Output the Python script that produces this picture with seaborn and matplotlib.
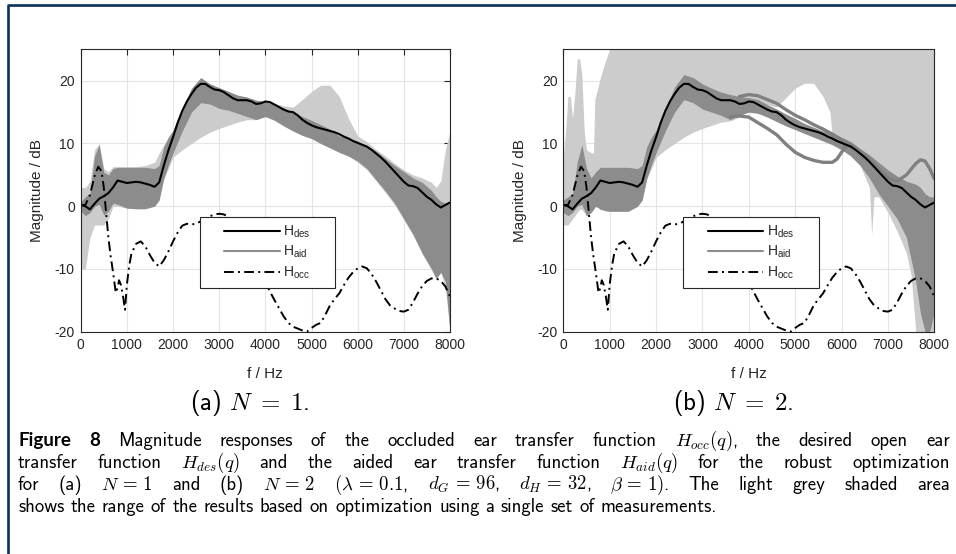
import matplotlib
matplotlib.use("Agg")
import matplotlib.pyplot as plt
import seaborn as sns
from matplotlib.lines import Line2D
from matplotlib.patches import Rectangle

# ---------------- data ----------------
f_des = list(range(0, 8001, 100))
h_des = [0.2, 0.0, -0.5, 0.4, 1.2, 1.6, 2.1, 3.0, 4.1, 3.9,
         3.7, 3.8, 3.9, 3.8, 3.6, 3.4, 3.1, 3.8, 6.5, 8.9,
         11.0, 13.3, 15.2, 16.7, 17.9, 18.9, 19.5, 19.5, 19.0, 18.6,
         18.5, 18.2, 17.7, 17.2, 16.9, 16.9, 16.9, 16.7, 16.3, 16.4,
         16.7, 16.6, 16.2, 15.8, 15.4, 15.1, 15.0, 14.5, 13.8, 13.3,
         12.9, 12.6, 12.4, 12.2, 12.0, 11.8, 11.5, 11.1, 10.8, 10.4,
         10.1, 9.8, 9.5, 9.0, 8.4, 7.8, 7.1, 6.3, 5.5, 4.7,
         3.9, 3.3, 3.2, 2.9, 2.2, 1.5, 1.0, 0.3, -0.2, 0.2,
         0.6]

f_occ = [0, 100, 200, 300, 380, 450, 500, 550, 600, 650, 700, 760, 800, 830, 870,
         920, 960, 1000, 1050, 1100, 1200, 1300, 1400, 1500, 1600, 1700, 1800, 1900,
         2000, 2100, 2200, 2300, 2400, 2500, 2600, 2700, 2800, 2900, 3000, 3100, 3200,
         3300, 3400, 3500, 3600, 3700, 3800, 3900, 4000, 4100, 4200, 4300, 4400, 4500,
         4600, 4700, 4800, 4900, 5000, 5100, 5200, 5300, 5400, 5500, 5600, 5700, 5800,
         5900, 6000, 6100, 6200, 6300, 6400, 6500, 6600, 6700, 6800, 6900, 7000, 7100,
         7200, 7300, 7400, 7500, 7600, 7700, 7800, 7900, 8000]
h_occ = [0.2, 0.2, 1.8, 4.8, 6.3, 5.6, 3.0, -1.0, -5.0, -8.0, -10.5, -13.8, -13.0, -11.8, -12.5,
         -14.5, -16.5, -12.5, -9.5, -7.5, -6.0, -5.6, -6.4, -7.8, -9.0, -9.6, -8.6, -7.2,
         -5.6, -4.2, -3.1, -2.8, -2.9, -2.8, -2.4, -2.0, -1.6, -1.3, -1.2, -1.3, -1.7,
         -2.5, -3.5, -4.8, -6.3, -7.8, -9.3, -10.8, -12.2, -13.6, -15.0, -16.3, -17.6, -18.6,
         -19.2, -19.5, -19.8, -20.0, -19.4, -18.9, -18.6, -17.3, -15.8, -14.8, -13.9, -12.6, -11.4,
         -10.5, -9.9, -9.6, -9.9, -10.8, -12.0, -13.4, -14.8, -15.8, -16.3, -16.7, -16.8, -16.5,
         -15.3, -13.9, -12.7, -11.9, -11.5, -11.5, -11.9, -12.8, -14.4]

# frequency grid of the aided-response bands and of the shaded area of panel (a)
f_band = [0, 100, 200, 300, 400, 500, 600, 700, 800, 1000, 1200, 1400, 1600, 1700, 1800,
          1900, 2000, 2200, 2400, 2600, 2800, 3000, 3200, 3400, 3600, 3800, 4000, 4200,
          4400, 4600, 4800, 5000, 5200, 5400, 5600, 5800, 6000, 6200, 6400, 6600, 6800,
          7000, 7200, 7400, 7600, 7700, 7800, 7900, 8000]

# panel (a): range of the aided curves (N = 1)
a_aid_lo = [-0.8, -1.5, -1.0, 0.0, 0.3, -1.4, -0.8, 0.5, 0.3, -0.3, -0.4, -0.4, 0.0, 1.0, 4.4,
            6.6, 8.5, 12.0, 15.0, 16.5, 16.3, 15.6, 15.3, 14.8, 14.3, 13.8, 14.3, 13.7,
            12.8, 12.0, 11.3, 10.8, 10.0, 9.3, 8.6, 8.0, 7.2, 6.0, 4.2, 2.4, 0.5,
            -2.0, -4.5, -7.5, -10.0, -11.5, -10.5, -12.0, -20.0]
a_aid_hi = [0.7, 1.5, 2.0, 8.0, 9.8, 5.4, 5.0, 6.0, 6.2, 6.2, 6.2, 6.2, 6.0, 6.5, 9.5,
            11.0, 12.1, 15.5, 18.8, 20.5, 19.5, 18.9, 18.3, 17.7, 17.4, 16.9, 16.7, 16.2,
            15.6, 15.0, 14.3, 13.7, 13.0, 12.3, 11.2, 10.8, 10.3, 9.6, 8.8, 7.6, 6.5,
            5.5, 4.5, 3.8, 2.5, 1.5, 0.8, 0.5, 0.7]
# panel (a): light grey range of single-measurement results
a_shade_lo = [-10.0, -10.0, -5.0, -3.0, -3.0, -3.0, -2.0, 0.0, 0.0, -0.3, -0.4, -0.4, 0.5, 2.0, 4.4,
              6.0, 7.8, 9.0, 10.0, 11.0, 11.8, 12.4, 12.9, 13.4, 13.8, 13.8, 14.3, 13.7,
              12.8, 12.0, 11.3, 10.8, 10.0, 9.3, 8.6, 8.0, 7.0, 5.8, 4.0, 2.2, 0.2,
              -2.2, -4.6, -7.6, -10.2, -11.6, -10.6, -13.0, -20.0]
a_shade_hi = [3.0, 3.0, 4.0, 9.0, 10.0, 6.0, 5.5, 6.3, 6.3, 6.3, 6.3, 6.5, 7.0, 8.5, 9.8,
              11.0, 12.1, 15.5, 18.8, 20.5, 19.5, 18.9, 18.3, 17.7, 17.4, 16.9, 16.7, 16.4,
              16.0, 15.8, 17.0, 18.3, 19.3, 19.3, 17.5, 14.0, 11.2, 10.3, 9.0, 8.0, 6.8,
              5.8, 5.0, 4.5, 3.8, 3.0, 4.0, 9.0, 12.0]

# panel (b): range of the main cluster of aided curves (N = 2)
b_aid_lo = [-1.0, -1.5, -1.0, 0.0, 0.3, -1.5, -1.0, 0.0, -0.5, -0.8, -0.8, -0.8, 0.0, 1.0, 4.4,
            6.6, 8.5, 12.0, 15.0, 17.0, 16.5, 15.5, 15.0, 14.5, 13.8, 14.5, 15.0, 14.8,
            14.2, 13.5, 12.8, 12.2, 11.6, 11.0, 10.4, 9.8, 9.0, 8.0, 6.5, 4.5, 2.0,
            0.0, -2.0, -5.0, -12.0, -17.0, -20.0, -20.0, -17.0]
b_aid_hi = [1.0, 1.5, 2.0, 7.0, 9.8, 6.0, 4.5, 5.5, 6.2, 6.2, 6.2, 6.2, 6.0, 6.5, 9.5,
            11.0, 12.1, 15.5, 19.0, 21.0, 20.5, 19.5, 18.8, 18.2, 17.8, 17.5, 17.3, 17.0,
            16.2, 15.5, 14.7, 14.0, 13.2, 12.6, 12.0, 11.5, 11.0, 10.3, 9.2, 8.2, 7.0,
            5.8, 4.8, 4.0, 3.5, 3.0, 2.0, 1.5, 1.5]
# panel (b): upper and lower outlier aided curves
f_b_up = [3800, 4000, 4200, 4400, 4600, 4800, 5000, 5200, 5400, 5600, 5800, 6000,
          6200, 6400, 6600, 6800, 7000, 7200, 7400, 7600, 7700, 7800, 7900, 8000]
b_up = [17.5, 17.8, 17.6, 17.0, 16.4, 15.4, 14.5, 13.8, 13.0, 12.3, 11.5, 10.6,
        9.8, 8.7, 7.5, 6.0, 4.5, 4.0, 5.0, 6.8, 7.4, 7.2, 6.0, 4.4]
f_b_low = [3600, 3800, 4000, 4200, 4400, 4600, 4800, 5000, 5200, 5400, 5600, 5800,
           5900, 6000, 6100]
b_low = [14.3, 14.4, 14.2, 13.3, 12.4, 11.4, 9.9, 8.6, 7.8, 7.3, 7.0, 7.0,
         7.5, 8.6, 9.6]
# panel (b): light grey range of single-measurement results
f_b_shade = [0, 50, 100, 150, 200, 250, 300, 350, 400, 450, 500, 600, 650, 680,
             800, 900, 1000, 1200, 1400, 1600, 1700, 1800, 1900, 2000, 2200, 2400,
             2600, 2800, 3000, 3200, 3400, 3600, 3800, 4000, 4200, 4400, 4600, 4800,
             5000, 5200, 5400, 5600, 5750, 5800, 6000, 6200, 6400, 6600, 6650, 6700,
             6800, 7000, 7200, 7400, 7500, 7600, 7800, 8000]
b_shade_lo = [-3.0, -3.0, -3.0, -2.5, -2.0, -1.5, -1.0, -0.5, -0.5, -1.0, -1.5, -1.0, -0.5, 0.0,
              -0.3, -0.8, -0.8, -0.8, -0.8, 0.0, 1.0, 4.4, 6.0, 7.8, 9.0, 10.0,
              11.0, 11.8, 12.4, 12.9, 13.4, 13.6, 14.2, 16.8, 16.6, 16.2, 15.8, 17.3,
              18.8, 19.6, 19.6, 17.5, 15.0, 11.0, 9.5, 8.0, 6.5, 3.0, -4.5, 1.5,
              1.5, -1.0, -4.0, -7.5, -11.0, -20.0, -20.0, -20.0]
b_shade_hi = [8.0, 12.0, 17.5, 17.5, 14.0, 18.0, 23.5, 23.5, 21.0, 12.0, 9.0, 8.5, 8.5, 17.0,
              20.5, 23.0, 25.0, 25.0, 25.0, 25.0, 25.0, 25.0, 25.0, 25.0, 25.0, 25.0,
              25.0, 25.0, 25.0, 25.0, 25.0, 25.0, 25.0, 25.0, 25.0, 25.0, 25.0, 25.0,
              25.0, 25.0, 25.0, 25.0, 25.0, 25.0, 25.0, 25.0, 25.0, 25.0, 25.0, 25.0,
              25.0, 25.0, 25.0, 25.0, 25.0, 25.0, 25.0, 25.0]

x_ticks = [0, 1000, 2000, 3000, 4000, 5000, 6000, 7000, 8000]
y_ticks = [-20, -10, 0, 10, 20]
legend_labels = [r"$\mathregular{H_{des}}$", r"$\mathregular{H_{aid}}$", r"$\mathregular{H_{occ}}$"]
sub_captions = [r"(a) $N\;=\;1$.", r"(b) $N\;=\;2$."]
caption_lines = [
    "Figure 8 Magnitude responses of the occluded ear transfer function $H_{occ}(q)$, the desired open ear",
    "transfer function $H_{des}(q)$ and the aided ear transfer function $H_{aid}(q)$ for the robust optimization",
    r"for (a) $N\,=\,1$ and (b) $N\,=\,2$ $(\lambda\,=\,0.1$, $d_G\,=\,96$, $d_H\,=\,32$, $\beta\,=\,1)$. The light grey shaded area",
    "shows the range of the results based on optimization using a single set of measurements.",
]

# ---------------- style ----------------
sns.set_theme(style="white")
plt.rcParams["font.family"] = ["Liberation Sans", "DejaVu Sans"]
plt.rcParams["axes.unicode_minus"] = False
plt.rcParams["mathtext.fontset"] = "cm"

W, H = 956, 554
fig = plt.figure(figsize=(W / 100, H / 100), dpi=100, facecolor="white")

def rect(l, t, r, b):
    return [l / W, 1 - b / H, (r - l) / W, (b - t) / H]

axA = fig.add_axes(rect(80.7, 49.4, 450.0, 331.7))
axB = fig.add_axes(rect(563.3, 49.4, 934.3, 331.7))

DARK = "#262626"
OCC_LS = (0, (5, 2.2, 1, 2.2))

def panel(ax, fs, s_lo, s_hi, a_lo, a_hi, extras):
    ax.fill_between(fs, s_lo, s_hi, color="#cccccc", lw=0, zorder=1)
    ax.fill_between(f_band, a_lo, a_hi, color="#8c8c8c", lw=0, zorder=2)
    for fx, vy in extras:
        sns.lineplot(x=fx, y=vy, ax=ax, color="#808080", lw=2.4, zorder=2.5)
    sns.lineplot(x=f_des, y=h_des, ax=ax, color="black", lw=1.5, zorder=4)
    sns.lineplot(x=f_occ, y=h_occ, ax=ax, color="black", lw=1.4, linestyle=OCC_LS, zorder=4)
    ax.set_xlim(0, 8000)
    ax.set_ylim(-20, 25)
    ax.set_xticks(x_ticks)
    ax.set_yticks(y_ticks)
    ax.tick_params(direction="in", length=4, width=0.8, colors=DARK, labelsize=10,
                   top=True, right=True, pad=4.2)
    ax.grid(True, color="#e4e4e4", lw=0.8)
    ax.set_axisbelow(True)
    for s in ax.spines.values():
        s.set_color(DARK)
        s.set_linewidth(0.8)
        s.set_zorder(10)
    ax.set_xlabel("f / Hz", fontsize=11, color=DARK)
    ax.set_ylabel("Magnitude / dB", fontsize=11, color=DARK)
    ax.xaxis.set_label_coords(0.5, -0.125)
    ax.yaxis.set_label_coords(-0.099, 0.5)
    # legend
    bx = (0.323, 0.156, 0.365, 0.251)
    ax.add_patch(Rectangle(bx[:2], bx[2], bx[3], transform=ax.transAxes, facecolor="white",
                           edgecolor=DARK, lw=0.8, zorder=8))
    handles = [Line2D([], [], color="black", lw=1.5),
               Line2D([], [], color="#8c8c8c", lw=1.5),
               Line2D([], [], color="black", lw=1.4, linestyle=OCC_LS)]
    leg = ax.legend(handles, legend_labels, loc="center", bbox_to_anchor=bx,
                    bbox_transform=ax.transAxes, frameon=False, fontsize=10,
                    handlelength=4.0, handletextpad=0.25, labelspacing=0.3, borderpad=0)
    leg.set_zorder(9)

panel(axA, f_band, a_shade_lo, a_shade_hi, a_aid_lo, a_aid_hi, [])
panel(axB, f_b_shade, b_shade_lo, b_shade_hi, b_aid_lo, b_aid_hi,
      [(f_b_up, b_up), (f_b_low, b_low)])

# sub captions
for xc, s in zip([250, 733], sub_captions):
    fig.text(xc / W, 1 - 410 / H, s, fontsize=18, family=["cmss10", "DejaVu Sans"],
             math_fontfamily="cm", ha="center", va="baseline", color="black")

# caption, justified
CAP_FS = 13.5
CAP_L, CAP_R = 18, 950
renderer = fig.canvas.get_renderer()
space_px = 0.333 * CAP_FS * 100 / 72
for i, line in enumerate(caption_lines):
    y = 1 - (446 + 22 * i) / H
    words = line.split(" ")
    arts = []
    for j, w in enumerate(words):
        if i == 0 and j < 2:
            t = fig.text(0, y, w, fontsize=CAP_FS, family=["Lato", "DejaVu Sans"],
                         fontweight="bold", ha="left", va="baseline", color="black")
        else:
            t = fig.text(0, y, w, fontsize=CAP_FS, family=["cmss10", "DejaVu Sans"],
                         math_fontfamily="cm", ha="left", va="baseline", color="black")
        arts.append(t)
    widths = [a.get_window_extent(renderer).width for a in arts]
    if i < len(caption_lines) - 1:
        gap = (CAP_R - CAP_L - sum(widths)) / (len(arts) - 1)
    else:
        gap = space_px
    x = CAP_L
    for a, wd in zip(arts, widths):
        a.set_x(x / W)
        x += wd + gap

# frame lines (left and top)
fig.add_artist(Line2D([8 / W, 8 / W, 1.0], [0.0, 1 - 4.7 / H, 1 - 4.7 / H],
                      transform=fig.transFigure, color="#0b2f5e", lw=1.9))

fig.savefig("out.png", dpi=100, facecolor="white")
